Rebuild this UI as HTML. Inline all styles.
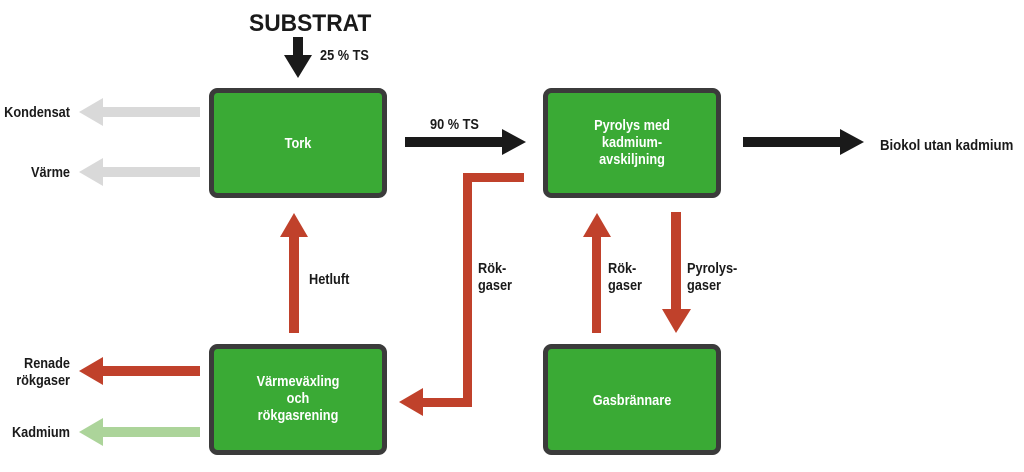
<!DOCTYPE html>
<html><head><meta charset="utf-8"><style>
html,body{margin:0;padding:0;background:#fff;}
svg{display:block;}
text{font-family:"Liberation Sans",sans-serif;font-weight:bold;}
</style></head><body>
<svg width="1024" height="472" viewBox="0 0 1024 472" xmlns="http://www.w3.org/2000/svg">
<g fill="#3aaa35" stroke="#3b3b3b" stroke-width="5">
<rect x="211.5" y="90.5" width="173" height="105" rx="6"/>
<rect x="545.5" y="90.5" width="173" height="105" rx="6"/>
<rect x="211.5" y="346.5" width="173" height="106" rx="6"/>
<rect x="545.5" y="346.5" width="173" height="106" rx="6"/>
</g>
<g fill="#fff" font-size="15" text-anchor="middle">
<text transform="translate(298,148) scale(0.85,1)">Tork</text>
<text transform="translate(632,130) scale(0.85,1)">Pyrolys med</text>
<text transform="translate(632,147) scale(0.85,1)">kadmium-</text>
<text transform="translate(632,164) scale(0.85,1)">avskiljning</text>
<text transform="translate(298,386) scale(0.85,1)">Värmeväxling</text>
<text transform="translate(298,403) scale(0.85,1)">och</text>
<text transform="translate(298,420) scale(0.85,1)">rökgasrening</text>
<text transform="translate(632,405) scale(0.85,1)">Gasbrännare</text>
</g>
<g fill="#1a1a1a">
<polygon points="293,37 303,37 303,55 312,55 298,78 284,55 293,55"/>
<polygon points="405,137 502,137 502,129 526,142 502,155 502,147 405,147"/>
<polygon points="743,137 840,137 840,129 864,142 840,155 840,147 743,147"/>
</g>
<g fill="#d9d9d9">
<polygon points="200,107 103,107 103,98 79,112 103,126 103,117 200,117"/>
<polygon points="200,167 103,167 103,158 79,172 103,186 103,177 200,177"/>
</g>
<polygon fill="#c0412b" points="200,366 103,366 103,357 79,371 103,385 103,376 200,376"/>
<polygon fill="#acd49a" points="200,427 103,427 103,418 79,432 103,446 103,437 200,437"/>
<g fill="#c0412b">
<polygon points="289,333 299,333 299,237 308,237 294,213 280,237 289,237"/>
<polygon points="592,333 601,333 601,237 611,237 597,213 583,237 592,237"/>
<polygon points="671,212 681,212 681,309 691,309 676,333 662,309 671,309"/>
<polygon points="524,173 524,182 472,182 472,407 423,407 423,416 399,402 423,388 423,398 463,398 463,173"/>
</g>
<g fill="#1a1a1a" font-size="15">
<text transform="translate(249,31) scale(0.95,1)" font-size="24">SUBSTRAT</text>
<text transform="translate(320,60) scale(0.85,1)">25 % TS</text>
<text transform="translate(430,129) scale(0.85,1)">90 % TS</text>
<text transform="translate(880,150) scale(0.88,1)">Biokol utan kadmium</text>
<text transform="translate(309,284) scale(0.85,1)">Hetluft</text>
<text transform="translate(478,273) scale(0.85,1)">Rök-</text>
<text transform="translate(478,290) scale(0.85,1)">gaser</text>
<text transform="translate(608,273) scale(0.85,1)">Rök-</text>
<text transform="translate(608,290) scale(0.85,1)">gaser</text>
<text transform="translate(687,273) scale(0.85,1)">Pyrolys-</text>
<text transform="translate(687,290) scale(0.85,1)">gaser</text>
<g text-anchor="end">
<text transform="translate(70,117) scale(0.85,1)">Kondensat</text>
<text transform="translate(70,177) scale(0.85,1)">Värme</text>
<text transform="translate(70,368) scale(0.85,1)">Renade</text>
<text transform="translate(70,385) scale(0.85,1)">rökgaser</text>
<text transform="translate(70,437) scale(0.85,1)">Kadmium</text>
</g>
</g>
</svg>
</body></html>
